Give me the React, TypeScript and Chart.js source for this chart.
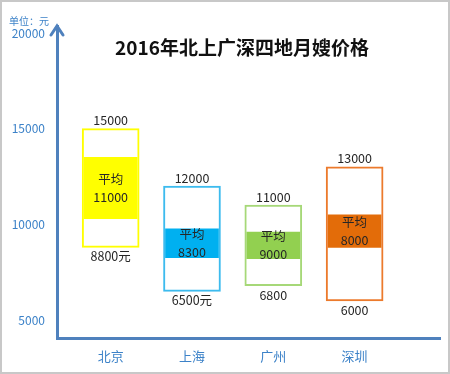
import React, { useEffect, useRef } from "react";
import { Chart, registerables } from "chart.js";

Chart.register(...registerables);

const cities = ["北京", "上海", "广州", "深圳"];
const minPrice = [8800, 6500, 6800, 6000];
const maxPrice = [15000, 12000, 11000, 13000];
const avgPrice = [11000, 8300, 9000, 8000];
const bandLow = [10300, 8260, 8200, 8800];
const bandHigh = [13500, 9770, 9600, 10500];
const minSuffix = ["元", "元", "", ""];
const yTicks = [5000, 10000, 15000, 20000];
const outlineColors = ["#FFFF00", "#3DBBEE", "#A6D878", "#EC7A2C"];
const bandColors = ["#FFFF00", "#00B0F0", "#92D050", "#E36C09"];

const FONT = "'Noto Sans CJK SC', 'Noto Sans', sans-serif";
const AXIS_BLUE = "#4F81BD";
const TEXT_BLUE = "#3C82C8";

const labelPlugin = {
  id: "boxLabels",
  afterDatasetsDraw(chart: any) {
    const ctx = chart.ctx;
    const boxMeta = chart.getDatasetMeta(1);
    const bandMeta = chart.getDatasetMeta(0);
    ctx.save();
    ctx.fillStyle = "#262626";
    ctx.font = `12.5px ${FONT}`;
    ctx.textAlign = "center";
    boxMeta.data.forEach((el: any, i: number) => {
      const top = Math.min(el.y, el.base);
      const bottom = Math.max(el.y, el.base);
      ctx.textBaseline = "bottom";
      ctx.fillText(String(maxPrice[i]), el.x, top - 2);
      ctx.textBaseline = "top";
      ctx.fillText(String(minPrice[i]) + minSuffix[i], el.x, bottom + 3);
    });
    bandMeta.data.forEach((el: any, i: number) => {
      const mid = (el.y + el.base) / 2;
      ctx.textBaseline = "middle";
      ctx.fillText("平均", el.x, mid - 9);
      ctx.fillText(String(avgPrice[i]), el.x, mid + 9);
    });
    ctx.restore();
  },
  afterDraw(chart: any) {
    const { ctx, chartArea } = chart;
    const x = chartArea.left;
    const y = chartArea.top;
    ctx.save();
    ctx.strokeStyle = AXIS_BLUE;
    ctx.lineWidth = 3;
    ctx.lineCap = "round";
    ctx.beginPath();
    ctx.moveTo(x - 6, y + 9);
    ctx.lineTo(x, y);
    ctx.lineTo(x + 6, y + 9);
    ctx.stroke();
    ctx.restore();
  },
};

export default function App() {
  const canvasRef = useRef<HTMLCanvasElement | null>(null);

  useEffect(() => {
    document.body.style.margin = "0";
    const canvas = canvasRef.current;
    if (!canvas) return;
    const chart = new Chart(canvas, {
      type: "bar",
      data: {
        datasets: [
          {
            label: "平均",
            data: cities.map((_, i) => ({ x: i, y: [bandLow[i], bandHigh[i]] })) as any,
            backgroundColor: bandColors,
            borderWidth: 0,
            barThickness: 53,
            grouped: false,
            order: 0,
          },
          {
            label: "价格区间",
            data: cities.map((_, i) => ({ x: i, y: [minPrice[i], maxPrice[i]] })) as any,
            backgroundColor: "#FFFFFF",
            borderColor: outlineColors,
            borderWidth: 2,
            borderSkipped: false,
            barThickness: 57,
            grouped: false,
            order: 1,
          },
        ],
      },
      options: {
        animation: false,
        responsive: false,
        maintainAspectRatio: false,
        layout: { padding: { top: 26, right: 10, left: 0, bottom: 0 } },
        plugins: {
          legend: { display: false },
          tooltip: { enabled: false },
          title: { display: false },
        },
        scales: {
          x: {
            type: "linear",
            offset: false,
            min: -0.66,
            max: 4.05,
            grid: { display: false, drawTicks: false, offset: false },
            border: { display: true, color: AXIS_BLUE, width: 3 },
            afterBuildTicks: (scale: any) => {
              scale.ticks = cities.map((_, i) => ({ value: i }));
            },
            afterFit: (scale: any) => {
              scale.height = 36;
            },
            ticks: {
              autoSkip: false,
              maxRotation: 0,
              padding: 10,
              color: TEXT_BLUE,
              font: { family: FONT, size: 13 },
              callback: (v: any) => cities[Number(v)] ?? "",
            },
          },
          y: {
            type: "linear",
            min: 4060,
            max: 20365,
            grid: { display: false, drawTicks: false },
            border: { display: true, color: AXIS_BLUE, width: 3 },
            afterBuildTicks: (scale: any) => {
              scale.ticks = yTicks.map((v) => ({ value: v }));
            },
            afterFit: (scale: any) => {
              scale.width = 57;
            },
            ticks: {
              padding: 12,
              color: TEXT_BLUE,
              font: { family: FONT, size: 12 },
              callback: (v: any) => String(v),
            },
          },
        },
      },
      plugins: [labelPlugin],
    } as any);
    return () => chart.destroy();
  }, []);

  return (
    <div
      style={{
        position: "relative",
        width: 450,
        height: 374,
        boxSizing: "border-box",
        background: "#fff",
        fontFamily: FONT,
      }}
    >
      <canvas ref={canvasRef} width={450} height={374} style={{ display: "block" }} />
      <div
        style={{
          position: "absolute",
          left: 9,
          top: 14,
          fontSize: 10,
          color: TEXT_BLUE,
          lineHeight: "14px",
        }}
      >
        单位：元
      </div>
      <div
        style={{
          position: "absolute",
          left: 0,
          width: 484,
          top: 33,
          textAlign: "center",
          fontSize: 19,
          fontWeight: "bold",
          color: "#111",
          lineHeight: "28px",
        }}
      >
        2016年北上广深四地月嫂价格
      </div>
      <div
        style={{
          position: "absolute",
          inset: 0,
          border: "2px solid #C8C8C8",
          pointerEvents: "none",
        }}
      />
    </div>
  );
}
